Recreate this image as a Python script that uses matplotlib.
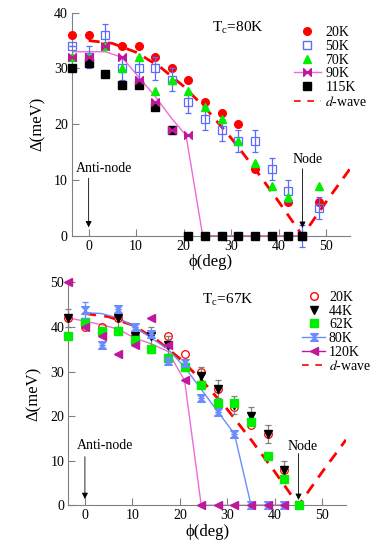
import numpy as np
import matplotlib
matplotlib.use('Agg')
import matplotlib.pyplot as plt
from matplotlib.path import Path
from matplotlib.lines import Line2D

plt.rcParams['font.family'] = ['Liberation Serif', 'DejaVu Serif']
plt.rcParams['mathtext.fontset'] = 'stix'

# ---------------- datos panel superior (Tc = 80K) ----------------
phi_20_a = [-3.5, 0, 3.5, 7, 10.5, 14, 17.5, 21, 24.5, 28, 31.5, 35, 42, 48.5]
gap_20_a = [36, 36, 34, 34, 34, 32, 30, 28, 24, 22, 20, 12, 6, 6]

phi_50_a = [-3.5, 0, 3.5, 7, 10.5, 14, 17.5, 21, 24.5, 28, 31.5, 35, 38.5, 42, 45, 48.5]
gap_50_a = [34, 32, 36, 30, 30, 30, 28, 24, 21, 19, 17, 17, 12, 8, 0, 5]
err_50_a = [0, 2, 2, 2, 2, 2, 2, 2, 2, 2, 2, 2, 2, 2, 2, 2]

phi_70_a = [-3.5, 0, 3.5, 7, 10.5, 14, 17.5, 21, 24.5, 28, 31.5, 35, 38.5, 42, 48.5]
gap_70_a = [32, 32, 34, 30, 32, 26, 28, 26, 23, 21, 17, 13, 9, 7, 9]

phi_90_a = [-3.5, 0, 3.5, 7, 10.5, 14, 17.5, 21]
gap_90_a = [32, 32, 34, 32, 28, 24, 19, 18]
fit_phi_90 = [-3.5, 3.5, 7, 10.5, 14, 17.5, 20.5, 24, 45]
fit_gap_90 = [33, 33, 32, 28.5, 25, 21, 18, 0, 0]

phi_115_a = [-3.5, 0, 3.5, 7, 10.5, 14, 17.5, 21, 24.5, 28, 31.5, 35, 38.5, 42, 45]
gap_115_a = [30, 31, 29, 27, 27, 23, 19, 0, 0, 0, 0, 0, 0, 0, 0]

dw_phi = [0, 5, 10, 15, 20, 25, 30, 35, 40, 45, 50, 55]
dw_gap_a = [35, 34.5, 32.9, 30.3, 26.8, 22.5, 17.5, 12.0, 6.1, 0, 6.1, 12.0]

# ---------------- datos panel inferior (Tc = 67K) ----------------
phi_20_b = [-3.5, 0, 3.5, 7, 10.5, 17.5, 21, 24.5, 28, 31.5, 35, 38.5, 42]
gap_20_b = [42, 40, 40, 42, 38, 38, 34, 30, 26, 22, 18, 16, 8]

phi_44_b = [-3.5, 7, 10.5, 14, 17.5, 24.5, 28, 31.5, 35, 38.5, 42]
gap_44_b = [42, 42, 38, 38, 36, 29, 26, 22.5, 20, 16, 8]

phi_62_b = [-3.5, 0, 3.5, 7, 10.5, 14, 17.5, 21, 24.5, 28, 31.5, 35, 38.5, 42, 45]
gap_62_b = [38, 41, 39, 39, 37, 35, 33, 31, 27, 23, 23, 18.7, 11, 6, 0]

phi_80_b = [0, 3.5, 7, 10.5, 14, 17.5, 21, 24.5, 28, 31.5, 35, 38.5, 42]
gap_80_b = [43.7, 36, 44, 40, 38.5, 32.4, 32, 24, 21, 16, 0, 0, 0]
err_80_b = [2, 0, 0, 0, 0, 0, 0, 0, 0, 0, 0, 0, 0]
fit_phi_80 = [0, 3.5, 7, 10.5, 14, 17.5, 21, 24.5, 28, 31.5, 35, 42]
fit_gap_80 = [43.2, 43, 42, 40, 37.5, 35, 31, 26, 21, 16, 0, 0]

phi_120_b = [-3.5, 0, 3.5, 7, 10.5, 14, 17.5, 21, 24.5, 28, 31.5, 35, 38.5, 42]
gap_120_b = [50, 40, 38, 34, 36, 42, 36, 28, 0, 0, 0, 0, 0, 0]
fit_phi_120 = [-3.5, 0, 3.5, 7, 10.5, 14, 17.5, 21, 24.5, 42]
fit_gap_120 = [42, 41.3, 40.5, 39.5, 37.5, 36.2, 34.5, 28, 0, 0]

dw_gap_b = [43, 42.3, 40.4, 37.2, 32.9, 27.6, 21.5, 14.7, 7.5, 0, 7.5, 14.7]

# marcadores propios
bowtie = Path([(-1, 1), (-1, -1), (0, 0), (-1, 1), (1, 1), (1, -1), (0, 0), (1, 1)],
              [Path.MOVETO, Path.LINETO, Path.LINETO, Path.CLOSEPOLY,
               Path.MOVETO, Path.LINETO, Path.LINETO, Path.CLOSEPOLY])
hourglass = Path([(-1, 1), (1, 1), (0, 0), (-1, 1), (-1, -1), (1, -1), (0, 0), (-1, -1)],
                 [Path.MOVETO, Path.LINETO, Path.LINETO, Path.CLOSEPOLY,
                  Path.MOVETO, Path.LINETO, Path.LINETO, Path.CLOSEPOLY])

RED = '#ff0000'
BLUE = '#5a6cff'
GREEN = '#00ee00'
MAG = '#c0189c'
PINK = '#ee6ad8'
BLUE2 = '#6a8cff'
GREY = '#808080'

fig = plt.figure(figsize=(3.82, 5.48), dpi=100)
ax1 = fig.add_axes([0.1885, 0.5699, 0.7277, 0.4069])
ax2 = fig.add_axes([0.1788, 0.0779, 0.7270, 0.4069])

ms = 5.5

# ---- panel superior
ax1.plot(dw_phi, dw_gap_a, color=RED, lw=2, dashes=(4, 3), zorder=2)
ax1.plot(fit_phi_90, fit_gap_90, color=PINK, lw=1, zorder=2)
ax1.plot(phi_20_a, gap_20_a, 'o', color=RED, ms=ms, zorder=3, clip_on=False)
ax1.errorbar(phi_50_a, gap_50_a, yerr=err_50_a, fmt='s', mfc='none', mec=BLUE, ecolor=BLUE,
             ms=ms, mew=0.9, elinewidth=0.9, capsize=2.5, capthick=0.9, zorder=3, clip_on=False)
ax1.plot(phi_70_a, gap_70_a, '^', color=GREEN, ms=ms, zorder=4, clip_on=False)
ax1.plot(phi_115_a, gap_115_a, 's', color='black', ms=ms, zorder=5, clip_on=False)
ax1.plot(phi_90_a, gap_90_a, ls='none', marker=bowtie, color=MAG, ms=ms, zorder=6, clip_on=False)

# ---- panel inferior
ax2.plot(dw_phi, dw_gap_b, color=RED, lw=2, dashes=(4, 3), zorder=2)
ax2.plot(fit_phi_80, fit_gap_80, color=BLUE2, lw=1, zorder=2)
ax2.plot(fit_phi_120, fit_gap_120, color=PINK, lw=1, zorder=2)
ax2.plot(phi_20_b, gap_20_b, 'o', mfc='none', mec=RED, ms=ms, mew=0.9, zorder=3, clip_on=False)
ax2.errorbar(phi_44_b, gap_44_b, yerr=2, fmt='v', color='black', ecolor=GREY,
             ms=ms, elinewidth=0.9, capsize=2.5, capthick=0.9, zorder=4, clip_on=False)
ax2.plot(phi_62_b, gap_62_b, 's', color=GREEN, ms=ms, zorder=5, clip_on=False)
ax2.errorbar(phi_80_b, gap_80_b, yerr=err_80_b, fmt='none', ecolor=BLUE2,
             elinewidth=0.9, capsize=2.5, capthick=0.9, zorder=5)
ax2.plot(phi_80_b, gap_80_b, ls='none', marker=hourglass, color=BLUE2, ms=ms, zorder=6, clip_on=False)
ax2.plot(phi_120_b, gap_120_b, '<', color=MAG, ms=ms, zorder=6, clip_on=False)

# ---- ejes
# (fin flecha, inicio flecha, x texto, y texto) para anti-nodo y nodo
flechas = {ax1: ((1.5, 10.3, -2.6, 12.1), (1.4, 12.0, 42.9, 13.6)),
           ax2: ((1.4, 10.9, -1.7, 13.4), (1.2, 11.6, 42.6, 13.1))}
flecha = dict(arrowstyle='-|>', color='black', lw=0.6, mutation_scale=9, shrinkA=0, shrinkB=0)
for ax, ytop in ((ax1, 40), (ax2, 50)):
    ax.set_xlim(-3.5, 55)
    ax.set_ylim(0, ytop)
    ax.set_xticks([0, 10, 20, 30, 40, 50])
    ax.set_yticks(range(0, ytop + 1, 10))
    for s in ('top', 'right'):
        ax.spines[s].set_visible(False)
    for s in ('left', 'bottom'):
        ax.spines[s].set_color(GREY)
    ax.tick_params(direction='in', length=5, color=GREY, labelsize=10, pad=3)
    ax.set_xlabel('ϕ(deg)', fontsize=12, labelpad=1)
    ax.set_ylabel('Δ(meV)', fontsize=12, labelpad=6)
    (a_fin, a_ini, a_tx, a_ty), (n_fin, n_ini, n_tx, n_ty) = flechas[ax]
    ax.annotate('', xy=(0, a_fin), xytext=(0, a_ini), arrowprops=flecha)
    ax.text(a_tx, a_ty, 'Anti-node', ha='left', va='center', fontsize=10)
    ax.annotate('', xy=(45, n_fin), xytext=(45, n_ini), arrowprops=flecha)
    ax.text(n_tx, n_ty, 'Node', ha='left', va='center', fontsize=10)

ax1.text(0.595, 0.93, r'T$_\mathregular{c}$=80K', transform=ax1.transAxes,
         fontsize=11, ha='center', va='center')
ax2.text(0.575, 0.92, r'T$_\mathregular{c}$=67K', transform=ax2.transAxes,
         fontsize=11, ha='center', va='center')

# ---- leyendas
h1 = [Line2D([], [], ls='none', marker='o', color=RED, ms=ms),
      Line2D([], [], ls='none', marker='s', mfc='none', mec=BLUE, ms=ms),
      Line2D([], [], ls='none', marker='^', color=GREEN, ms=ms),
      Line2D([], [], color=PINK, lw=1, marker=bowtie, mfc=MAG, mec=MAG, ms=ms),
      Line2D([], [], ls='none', marker='s', color='black', ms=ms),
      Line2D([], [], color=RED, lw=1.2, dashes=(4, 4))]
l1 = ['20K', '50K', '70K', '90K', '115K', '$d$-wave']
fig.legend(h1, l1, loc='upper left', bbox_to_anchor=(0.752, 0.965), frameon=False,
           fontsize=10, handlelength=1.9, handletextpad=0.35, labelspacing=0.05, borderpad=0)

h2 = [Line2D([], [], ls='none', marker='o', mfc='none', mec=RED, ms=ms),
      Line2D([], [], ls='none', marker='v', color='black', ms=ms),
      Line2D([], [], ls='none', marker='s', color=GREEN, ms=ms),
      Line2D([], [], color=BLUE2, lw=1, marker=hourglass, ms=ms),
      Line2D([], [], color=MAG, lw=1, marker='<', ms=ms),
      Line2D([], [], color=RED, lw=1.2, dashes=(4, 4))]
l2 = ['20K', '44K', '62K', '80K', '120K', '$d$-wave']
fig.legend(h2, l2, loc='upper left', bbox_to_anchor=(0.772, 0.482), frameon=False,
           fontsize=10, handlelength=1.7, handletextpad=0.25, labelspacing=0.05, borderpad=0)

fig.savefig('out.png', dpi=100)
